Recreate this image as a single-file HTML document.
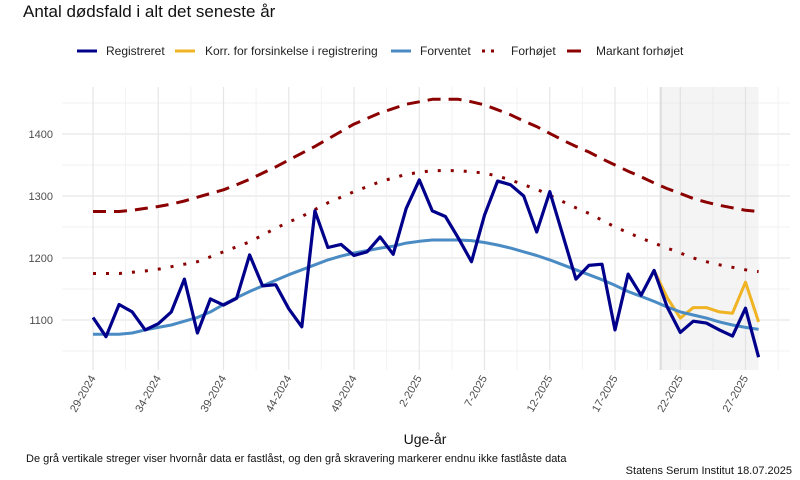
<!DOCTYPE html>
<html><head><meta charset="utf-8">
<style>
body{margin:0;background:#fff;}
svg{display:block;font-family:"Liberation Sans",Arial,sans-serif;}
</style></head>
<body>
<svg id="chart" width="800" height="480" viewBox="0 0 800 480">
<text x="23" y="17" font-size="17" fill="#111">Antal dødsfald i alt det seneste år</text>
<g id="legend" font-size="12" fill="#222">
 <g><line x1="77" y1="51" x2="97" y2="51" stroke="#00008b" stroke-width="3"/><text x="106" y="55">Registreret</text></g>
 <g><line x1="175" y1="51" x2="195" y2="51" stroke="#f0b323" stroke-width="3"/><text x="205" y="55">Korr. for forsinkelse i registrering</text></g>
 <g><line x1="391" y1="51" x2="411" y2="51" stroke="#4a8bc4" stroke-width="3"/><text x="420" y="55">Forventet</text></g>
 <g><line x1="482" y1="51" x2="500" y2="51" stroke="#8b0000" stroke-width="3" stroke-dasharray="3,6"/><text x="511" y="55">Forhøjet</text></g>
 <g><line x1="567" y1="51" x2="581" y2="51" stroke="#8b0000" stroke-width="3"/><text x="596" y="55">Markant forhøjet</text></g>
</g>
<g id="grid"></g>
<g id="marks"></g>
<g id="axes"></g>
<text x="425" y="444" font-size="14" text-anchor="middle" fill="#111">Uge-år</text>
<text x="26" y="462" font-size="11" fill="#111">De grå vertikale streger viser hvornår data er fastlåst, og den grå skravering markerer endnu ikke fastlåste data</text>
<text x="792" y="474" font-size="11" text-anchor="end" fill="#111">Statens Serum Institut  18.07.2025</text>
</svg>
<script>
const registreret=[1104,1073,1125,1113,1084,1094,1113,1166,1079,1134,1124,1135,1205,1155,1157,1118,1089,1276,1217,1222,1204,1210,1234,1206,1280,1326,1276,1267,1232,1194,1269,1324,1318,1300,1242,1307,1237,1166,1188,1190,1084,1174,1140,1180,1121,1080,1098,1095,1084,1074,1119,1040];
const korrigeret=[1180,1136,1103,1120,1120,1113,1111,1161,1097];
const korrStart=43;
const forventet=[1077,1077,1077,1079,1084,1088,1092,1098,1104,1113,1125,1136,1146,1155,1164,1173,1181,1189,1197,1203,1208,1212,1216,1219,1224,1227,1229,1229,1229,1228,1225,1221,1216,1210,1204,1197,1189,1181,1173,1165,1156,1146,1138,1130,1121,1113,1108,1103,1097,1092,1088,1085];
const forhoejet=[1175,1175,1175,1177,1179,1182,1186,1190,1194,1202,1210,1218,1226,1237,1248,1258,1267,1278,1289,1298,1307,1315,1323,1329,1335,1338,1341,1341,1341,1339,1337,1332,1326,1318,1311,1301,1291,1281,1272,1261,1250,1241,1232,1224,1216,1208,1200,1194,1189,1185,1181,1178];
const markant=[1275,1275,1275,1277,1280,1283,1287,1292,1298,1304,1310,1318,1327,1337,1347,1358,1369,1380,1392,1404,1416,1425,1434,1441,1448,1452,1456,1456,1456,1452,1447,1439,1431,1421,1412,1401,1390,1380,1371,1360,1350,1340,1331,1321,1312,1304,1296,1290,1285,1281,1277,1275];
const yTicks=[1100,1200,1300,1400];
const xTickLabels=["29-2024","34-2024","39-2024","44-2024","49-2024","2-2025","7-2025","12-2025","17-2025","22-2025","27-2025"];
const lockedIndex=43.5;

const NS="http://www.w3.org/2000/svg";
const X0=62,X1=790,Y0=87,Y1=370;
const xs=i=>93+i*13.05;
const ys=v=>320-(v-1100)*0.62;
function mk(tag,attrs,parent){const e=document.createElementNS(NS,tag);for(const k in attrs)e.setAttribute(k,attrs[k]);parent.appendChild(e);return e;}
const grid=document.getElementById('grid'),marks=document.getElementById('marks'),axes=document.getElementById('axes');
// minor y grid
for(let v=1050;v<=1450;v+=100){const l=mk('line',{x1:X0,x2:X1,y1:ys(v),y2:ys(v),stroke:'#f2f2f2','stroke-width':1},grid);

}
yTicks.forEach(v=>{const l=mk('line',{x1:X0,x2:X1,y1:ys(v),y2:ys(v),stroke:'#e6e6e6','stroke-width':1.2},grid);


const t=mk('text',{x:53,y:ys(v)+4,'font-size':11,'text-anchor':'end',fill:'#4d4d4d'},axes);t.textContent=v;

});
for(let k=-0.5;k<xTickLabels.length+0.5;k++){const x=xs(k*5);if(x<X0||x>X1)continue;const l=mk('line',{x1:x,x2:x,y1:Y0,y2:Y1,stroke:'#f2f2f2','stroke-width':1},grid);

}
xTickLabels.forEach((lab,k)=>{const x=xs(k*5);const l=mk('line',{x1:x,x2:x,y1:Y0,y2:Y1,stroke:'#e6e6e6','stroke-width':1.2},grid);


const t=mk('text',{x:x+3,y:378,'font-size':11,'text-anchor':'end',fill:'#4d4d4d',transform:`rotate(-60 ${x+3} 378)`},axes);t.textContent=lab;

});
// shading
const last=xs(registreret.length-1);
const sh=mk('rect',{x:xs(lockedIndex),y:Y0,width:last-xs(lockedIndex),height:Y1-Y0,fill:'#d9d9d9','fill-opacity':0.3},marks);


const vl=mk('line',{x1:xs(lockedIndex),x2:xs(lockedIndex),y1:Y0,y2:Y1,stroke:'#dcdcdc','stroke-width':2},marks);


function path(arr,off,attrs,name){const d=arr.map((v,i)=>(i?'L':'M')+xs(i+off).toFixed(1)+','+ys(v).toFixed(1)).join('');
const p=mk('path',Object.assign({d,fill:'none','stroke-linejoin':'round'},attrs),marks);

}
path(markant,0,{stroke:'#8b0000','stroke-width':3,'stroke-dasharray':'13,8'},'markant-forhoejet-line');
path(forhoejet,0,{stroke:'#8b0000','stroke-width':3,'stroke-dasharray':'3,10'},'forhoejet-line');
path(korrigeret,korrStart,{stroke:'#f0b323','stroke-width':3},'korrigeret-line');
path(forventet,0,{stroke:'#4a8bc4','stroke-width':3},'forventet-line');
path(registreret,0,{stroke:'#00008b','stroke-width':3.2},'registreret-line');
</script>
</body></html>
